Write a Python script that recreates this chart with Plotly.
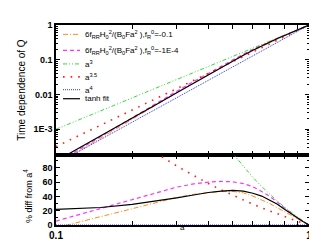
import plotly.graph_objects as go

# ---- data ----
a = [0.1, 0.15, 0.2, 0.25, 0.3, 0.35, 0.4, 0.45, 0.5, 0.55, 0.6, 0.65,
     0.7, 0.75, 0.8, 0.85, 0.9, 0.95, 1.0]

# top panel: time dependence of Q
q_fr01 = [0.96e-4, 5.655e-4, 1.968e-3, 5.137e-3, 0.011219, 0.021459, 0.037248,
          0.060279, 0.091875, 0.132684, 0.182088, 0.241876, 0.31213, 0.392343,
          0.485376, 0.589867, 0.708588, 0.843014, 1.0]
q_fr1e4 = [1.055e-4, 6.227e-4, 2.168e-3, 5.664e-3, 0.012393, 0.023634, 0.04096,
           0.06602, 0.100313, 0.144579, 0.198936, 0.262404, 0.33614, 0.417656,
           0.507904, 0.608137, 0.71843, 0.851159, 1.0]
q_a3 = [0.001, 0.003375, 0.008, 0.015625, 0.027, 0.042875, 0.064, 0.091125,
        0.125, 0.166375, 0.216, 0.274625, 0.343, 0.421875, 0.512, 0.614125,
        0.729, 0.857375, 1.0]
q_a35 = [3.162e-4, 1.307e-3, 3.578e-3, 7.8125e-3, 0.014788, 0.025365, 0.040477,
         0.061128, 0.088388, 0.123387, 0.167314, 0.221411, 0.286974, 0.365354,
         0.457947, 0.566193, 0.691588, 0.835666, 1.0]
q_a4 = [1e-4, 5.0625e-4, 0.0016, 0.003906, 0.0081, 0.015006, 0.0256, 0.041006,
        0.0625, 0.091506, 0.1296, 0.178506, 0.2401, 0.316406, 0.4096, 0.522006,
        0.6561, 0.814506, 1.0]
q_tanh = [1.22e-4, 6.303e-4, 2.064e-3, 5.215e-3, 0.011178, 0.021309, 0.037248,
          0.060484, 0.092813, 0.134971, 0.187272, 0.250801, 0.324135, 0.408164,
          0.499712, 0.602917, 0.71843, 0.851159, 1.0]

# bottom panel: % difference from a^4
d_fr01 = [-4, 11.7, 23, 31.5, 38.5, 43, 45.5, 47, 47, 45, 40.5, 35.5, 30, 24,
          18.5, 13, 8, 3.5, 0]
d_fr1e4 = [5.5, 23, 35.5, 45, 53, 57.5, 60, 61, 60.5, 58, 53.5, 47, 40, 32, 24,
           16.5, 9.5, 4.5, 0]
d_a3 = [900, 566.7, 400, 300, 233.3, 185.7, 150, 122.2, 100, 81.8, 66.7, 53.8,
        42.9, 33.3, 25, 17.6, 11.1, 5.3, 0]
d_a35 = [216.2, 158.2, 123.6, 100, 82.6, 69.0, 58.1, 49.1, 41.4, 34.8, 29.1,
         24.0, 19.5, 15.5, 11.8, 8.5, 5.4, 2.6, 0]
d_a4 = [0] * len(a)
d_tanh = [22, 24.5, 29, 33.5, 38, 42, 45.5, 47.5, 48.5, 47.5, 44.5, 40.5, 35,
          29, 22, 15.5, 9.5, 4.5, 0]

x_labeled = [0.1, 1.0]
x_labels = ["0.1", "1"]
x_unlabeled = [0.2, 0.3, 0.4, 0.5, 0.6, 0.7, 0.8, 0.9]
y1_ticks = [1e-3, 1e-2, 1e-1, 1]
y1_ticktext = ["1E-3", "0.01", "0.1", "1"]
y2_ticks = [0, 20, 40, 60, 80]

names = [
    "6f<sub>RR</sub>H<sub>0</sub><sup>2</sup>/(B<sub>0</sub>Fa<sup>2</sup> ),f<sub>R</sub><sup>0</sup>=-0.1",
    "6f<sub>RR</sub>H<sub>0</sub><sup>2</sup>/(B<sub>0</sub>Fa<sup>2</sup> ),f<sub>R</sub><sup>0</sup>=-1E-4",
    "a<sup>3</sup>",
    "a<sup>3.5</sup>",
    "a<sup>4</sup>",
    "tanh fit",
]

styles = [
    dict(color="#FF8C1A", width=1, dash="5px,2px,1px,2px"),
    dict(color="#FF33FF", width=1.2, dash="4px,3px"),
    dict(color="#33DD33", width=1, dash="4px,2px,1px,2px,1px,2px"),
    dict(color="#FF2020", width=1.6, dash="1.6px,6px"),
    dict(color="#2233FF", width=1, dash="1px,1px"),
    dict(color="black", width=1.2),
]

top = [q_fr01, q_fr1e4, q_a3, q_a35, q_a4, q_tanh]
bot = [d_fr01, d_fr1e4, d_a3, d_a35, d_a4, d_tanh]

fig = go.Figure()
for n, s, yt in zip(names, styles, top):
    fig.add_trace(go.Scatter(x=a, y=yt, mode="lines", name=n, line=s,
                             xaxis="x", yaxis="y", showlegend=False))
for n, s, yb in zip(names, styles, bot):
    fig.add_trace(go.Scatter(x=a, y=yb, mode="lines", name=n, line=s,
                             xaxis="x2", yaxis="y2", showlegend=False))

# ---- hand-placed legend (compact rows like the reference) ----
W, H = 253.0, 207.0          # plot area size in px
L_TOP = 13.0                 # top margin px
row_px = [22.7, 39.3, 53.3, 66.7, 80.0, 89.3]
shapes, annotations = [], []
for n, s, py in zip(names, styles, row_px):
    yp = 1 - (py - L_TOP) / H
    shapes.append(dict(type="line", xref="paper", yref="paper",
                       x0=7 / W, x1=24 / W, y0=yp, y1=yp,
                       line=dict(color=s["color"], width=s["width"],
                                 dash=s.get("dash", "solid"))))
    annotations.append(dict(text=n, xref="paper", yref="paper", x=27 / W,
                            y=yp, xanchor="left", yanchor="middle",
                            showarrow=False,
                            font=dict(family="Liberation Sans", size=8,
                                      color="black")))

minor_log = [m * 10 ** e for e in range(-4, 0) for m in range(2, 10)]

tickfont = dict(family="Liberation Sans", size=9, color="black", weight="bold")
axcommon = dict(showline=True, linecolor="black", linewidth=1.5, mirror="ticks",
                ticks="inside", ticklen=4, tickwidth=1, tickcolor="black",
                showgrid=False, zeroline=False, tickfont=tickfont)
xminor = dict(tickvals=x_unlabeled, ticks="inside", ticklen=4, tickwidth=1,
              tickcolor="black", showgrid=False)

annotations += [
    dict(text="Time dependence of Q", xref="paper", yref="paper",
         x=0, y=1 - (80 - L_TOP) / H, xshift=-34, xanchor="center",
         yanchor="middle", textangle=-90, showarrow=False,
         font=dict(family="Liberation Sans", size=10, color="black")),
    dict(text="% diff from a<sup>4</sup>", xref="paper", yref="paper",
         x=0, y=1 - (190 - L_TOP) / H, xshift=-28, xanchor="center",
         yanchor="middle", textangle=-90, showarrow=False,
         font=dict(family="Liberation Sans", size=9, color="black")),
    dict(text="a", xref="paper", yref="paper", x=0.5, y=0, yshift=-2,
         xanchor="center", yanchor="middle", showarrow=False,
         font=dict(family="Liberation Sans", size=8, color="black")),
]

fig.update_layout(
    width=317, height=245,
    margin=dict(l=48, r=16, t=13, b=25),
    paper_bgcolor="white", plot_bgcolor="white",
    font=dict(family="Liberation Sans", size=9, color="black"),
    showlegend=False,
    xaxis=dict(type="log", range=[-1, 0], domain=[0, 1], anchor="y",
               tickvals=x_labeled, showticklabels=False, minor=xminor,
               **axcommon),
    yaxis=dict(type="log", range=[-3.74, 0], domain=[0.35, 1], anchor="x",
               tickvals=y1_ticks, ticktext=y1_ticktext,
               minor=dict(tickvals=minor_log, ticks="inside", ticklen=2,
                          tickcolor="black", showgrid=False),
               **axcommon),
    xaxis2=dict(type="log", range=[-1, 0], domain=[0, 1], anchor="y2",
                tickvals=x_labeled, ticktext=x_labels, minor=xminor,
                **{**axcommon,
                   "tickfont": dict(family="Liberation Sans", size=10,
                                    color="black", weight="bold")}),
    yaxis2=dict(range=[0, 98], domain=[0, 0.35], anchor="x2",
                tickvals=y2_ticks,
                minor=dict(dtick=10, ticks="inside", ticklen=2,
                           tickcolor="black", showgrid=False),
                **axcommon),
    shapes=shapes,
    annotations=annotations,
)

fig.write_html("out.html")
